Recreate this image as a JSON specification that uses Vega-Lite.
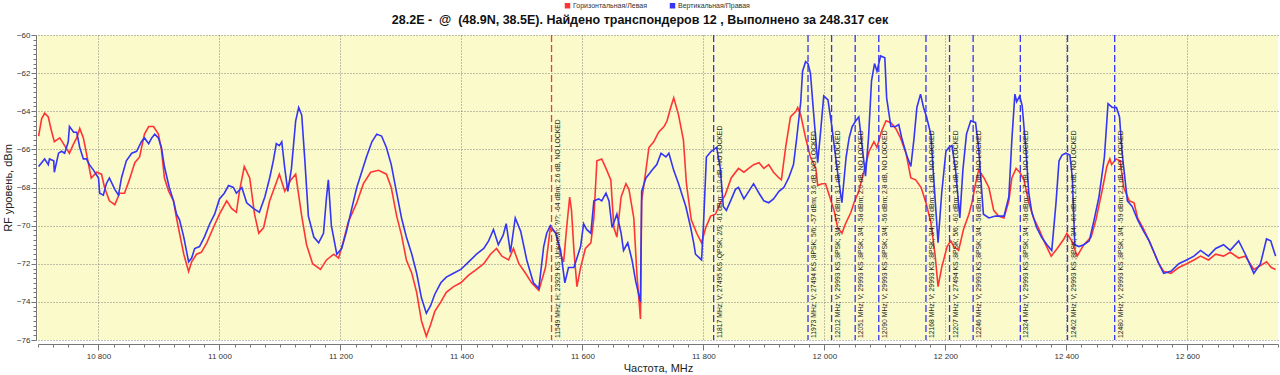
{
"$schema": "https://vega.github.io/schema/vega-lite/v6.json",
"width": 1240, "height": 305,
"autosize": {"type": "none"},
"padding": {"left": 38, "top": 35, "right": 2, "bottom": 35},
"background": "white",
"view": {"fill": "#FAFACB", "stroke": null},
"title": {"text": "28.2E -\u00a0 @\u00a0 (48.9N, 38.5E). Найдено транспондеров 12 , Выполнено за 248.317 сек", "fontSize": 12.5, "font": "Liberation Sans", "fontWeight": "bold", "color": "#111", "anchor": "middle", "frame": "group", "offset": 0, "dx": -18, "dy": 24},
"config": {"font": "Liberation Sans"},
"datasets": {
"tp": [
{"f": 11549, "s": "H", "label": "11549 MHz; H; 23929 KS ;Unknown; ?/?; -64 dBm; 2.6 dB, NO LOCKED"},
{"f": 11817, "s": "V", "label": "11817 MHz; V; 27495 KS ;QPSK; 2/3; -61 dBm; 10.0 dB, NO LOCKED"},
{"f": 11973, "s": "V", "label": "11973 MHz; V; 27494 KS ;8PSK; 5/6; -57 dBm; 3.6 dB, NO LOCKED"},
{"f": 12012, "s": "V", "label": "12012 MHz; V; 29993 KS ;8PSK; 3/4; -57 dBm; 3.1 dB, NO LOCKED"},
{"f": 12051, "s": "V", "label": "12051 MHz; V; 29993 KS ;8PSK; 3/4; -58 dBm; 2.0 dB, NO LOCKED"},
{"f": 12090, "s": "V", "label": "12090 MHz; V; 29993 KS ;8PSK; 3/4; -56 dBm; 2.8 dB, NO LOCKED"},
{"f": 12168, "s": "V", "label": "12168 MHz; V; 29993 KS ;8PSK; 3/4; -58 dBm; 3.1 dB, NO LOCKED"},
{"f": 12207, "s": "V", "label": "12207 MHz; V; 27494 KS ;8PSK; 5/6; -60 dBm; 3.8 dB, NO LOCKED"},
{"f": 12246, "s": "V", "label": "12246 MHz; V; 29993 KS ;8PSK; 3/4; -58 dBm; 2.8 dB, NO LOCKED"},
{"f": 12324, "s": "V", "label": "12324 MHz; V; 29993 KS ;8PSK; 3/4; -58 dBm; 2.7 dB, NO LOCKED"},
{"f": 12402, "s": "V", "label": "12402 MHz; V; 29993 KS ;8PSK; 3/4; -60 dBm; 2.6 dB, NO LOCKED"},
{"f": 12480, "s": "V", "label": "12480 MHz; V; 29993 KS ;8PSK; 3/4; -59 dBm; 2.1 dB, NO LOCKED"}
],
"spec": [
{"s":"H","f":10701,"v":-65.3},{"s":"H","f":10706,"v":-64.4},{"s":"H","f":10711,"v":-64.1},{"s":"H","f":10717,"v":-64.3},{"s":"H","f":10722,"v":-65.0},{"s":"H","f":10727,"v":-65.6},{"s":"H","f":10736,"v":-65.4},{"s":"H","f":10744,"v":-65.8},{"s":"H","f":10752,"v":-66.2},{"s":"H","f":10759,"v":-65.7},{"s":"H","f":10764,"v":-65.4},{"s":"H","f":10769,"v":-64.9},{"s":"H","f":10775,"v":-65.4},{"s":"H","f":10780,"v":-66.2},{"s":"H","f":10788,"v":-67.5},{"s":"H","f":10797,"v":-67.2},{"s":"H","f":10805,"v":-67.3},{"s":"H","f":10810,"v":-68.0},{"s":"H","f":10818,"v":-68.7},{"s":"H","f":10827,"v":-68.9},{"s":"H","f":10835,"v":-68.3},{"s":"H","f":10843,"v":-68.3},{"s":"H","f":10851,"v":-67.6},{"s":"H","f":10860,"v":-66.7},{"s":"H","f":10868,"v":-66.4},{"s":"H","f":10876,"v":-65.2},{"s":"H","f":10883,"v":-64.8},{"s":"H","f":10891,"v":-64.8},{"s":"H","f":10899,"v":-65.2},{"s":"H","f":10904,"v":-66.0},{"s":"H","f":10909,"v":-67.5},{"s":"H","f":10916,"v":-68.2},{"s":"H","f":10924,"v":-68.7},{"s":"H","f":10929,"v":-69.6},{"s":"H","f":10934,"v":-70.4},{"s":"H","f":10941,"v":-71.5},{"s":"H","f":10949,"v":-72.4},{"s":"H","f":10954,"v":-71.9},{"s":"H","f":10962,"v":-71.5},{"s":"H","f":10970,"v":-71.4},{"s":"H","f":10979,"v":-70.9},{"s":"H","f":10990,"v":-70.1},{"s":"H","f":11000,"v":-69.4},{"s":"H","f":11012,"v":-68.7},{"s":"H","f":11020,"v":-69.1},{"s":"H","f":11028,"v":-69.3},{"s":"H","f":11033,"v":-68.2},{"s":"H","f":11041,"v":-66.9},{"s":"H","f":11050,"v":-67.5},{"s":"H","f":11058,"v":-69.4},{"s":"H","f":11065,"v":-70.4},{"s":"H","f":11073,"v":-70.1},{"s":"H","f":11083,"v":-68.7},{"s":"H","f":11091,"v":-68.0},{"s":"H","f":11099,"v":-67.3},{"s":"H","f":11108,"v":-68.2},{"s":"H","f":11118,"v":-67.6},{"s":"H","f":11126,"v":-67.3},{"s":"H","f":11136,"v":-69.5},{"s":"H","f":11144,"v":-71.0},{"s":"H","f":11154,"v":-72.0},{"s":"H","f":11167,"v":-72.3},{"s":"H","f":11177,"v":-71.8},{"s":"H","f":11189,"v":-71.5},{"s":"H","f":11197,"v":-71.7},{"s":"H","f":11205,"v":-70.8},{"s":"H","f":11213,"v":-69.8},{"s":"H","f":11227,"v":-68.8},{"s":"H","f":11238,"v":-67.8},{"s":"H","f":11250,"v":-67.2},{"s":"H","f":11263,"v":-67.1},{"s":"H","f":11276,"v":-67.3},{"s":"H","f":11284,"v":-68.0},{"s":"H","f":11293,"v":-69.5},{"s":"H","f":11301,"v":-70.5},{"s":"H","f":11309,"v":-71.8},{"s":"H","f":11318,"v":-72.5},{"s":"H","f":11326,"v":-73.5},{"s":"H","f":11334,"v":-75.0},{"s":"H","f":11342,"v":-75.8},{"s":"H","f":11349,"v":-75.2},{"s":"H","f":11356,"v":-74.5},{"s":"H","f":11366,"v":-74.0},{"s":"H","f":11375,"v":-73.5},{"s":"H","f":11387,"v":-73.2},{"s":"H","f":11399,"v":-73.0},{"s":"H","f":11412,"v":-72.6},{"s":"H","f":11425,"v":-72.3},{"s":"H","f":11437,"v":-72.0},{"s":"H","f":11448,"v":-71.5},{"s":"H","f":11458,"v":-71.2},{"s":"H","f":11467,"v":-71.6},{"s":"H","f":11478,"v":-71.8},{"s":"H","f":11486,"v":-71.2},{"s":"H","f":11495,"v":-72.0},{"s":"H","f":11506,"v":-72.5},{"s":"H","f":11516,"v":-73.0},{"s":"H","f":11528,"v":-73.4},{"s":"H","f":11539,"v":-72.2},{"s":"H","f":11547,"v":-70.1},{"s":"H","f":11556,"v":-70.4},{"s":"H","f":11564,"v":-71.5},{"s":"H","f":11569,"v":-71.9},{"s":"H","f":11574,"v":-70.1},{"s":"H","f":11579,"v":-68.5},{"s":"H","f":11582,"v":-69.2},{"s":"H","f":11586,"v":-71.3},{"s":"H","f":11591,"v":-73.2},{"s":"H","f":11597,"v":-72.2},{"s":"H","f":11605,"v":-71.2},{"s":"H","f":11614,"v":-70.9},{"s":"H","f":11619,"v":-69.6},{"s":"H","f":11624,"v":-66.6},{"s":"H","f":11632,"v":-66.5},{"s":"H","f":11639,"v":-67.0},{"s":"H","f":11647,"v":-67.6},{"s":"H","f":11652,"v":-70.1},{"s":"H","f":11657,"v":-70.6},{"s":"H","f":11664,"v":-68.5},{"s":"H","f":11672,"v":-67.8},{"s":"H","f":11677,"v":-68.1},{"s":"H","f":11685,"v":-69.6},{"s":"H","f":11690,"v":-72.5},{"s":"H","f":11696,"v":-74.9},{"s":"H","f":11698,"v":-68.7},{"s":"H","f":11705,"v":-67.1},{"s":"H","f":11710,"v":-65.9},{"s":"H","f":11718,"v":-65.6},{"s":"H","f":11726,"v":-65.1},{"s":"H","f":11735,"v":-64.8},{"s":"H","f":11740,"v":-64.5},{"s":"H","f":11746,"v":-63.8},{"s":"H","f":11751,"v":-63.3},{"s":"H","f":11759,"v":-64.2},{"s":"H","f":11767,"v":-65.5},{"s":"H","f":11772,"v":-67.8},{"s":"H","f":11780,"v":-69.7},{"s":"H","f":11789,"v":-70.4},{"s":"H","f":11797,"v":-70.9},{"s":"H","f":11804,"v":-70.1},{"s":"H","f":11812,"v":-69.5},{"s":"H","f":11820,"v":-69.4},{"s":"H","f":11828,"v":-68.8},{"s":"H","f":11836,"v":-68.4},{"s":"H","f":11846,"v":-67.5},{"s":"H","f":11858,"v":-67.0},{"s":"H","f":11867,"v":-67.2},{"s":"H","f":11875,"v":-67.0},{"s":"H","f":11883,"v":-66.8},{"s":"H","f":11892,"v":-66.7},{"s":"H","f":11900,"v":-67.0},{"s":"H","f":11908,"v":-66.8},{"s":"H","f":11916,"v":-67.2},{"s":"H","f":11925,"v":-67.5},{"s":"H","f":11929,"v":-67.6},{"s":"H","f":11936,"v":-65.9},{"s":"H","f":11944,"v":-64.3},{"s":"H","f":11953,"v":-64.0},{"s":"H","f":11956,"v":-63.8},{"s":"H","f":11961,"v":-64.2},{"s":"H","f":11969,"v":-65.4},{"s":"H","f":11977,"v":-66.4},{"s":"H","f":11986,"v":-67.0},{"s":"H","f":11989,"v":-67.9},{"s":"H","f":11996,"v":-67.8},{"s":"H","f":12002,"v":-67.8},{"s":"H","f":12007,"v":-68.3},{"s":"H","f":12016,"v":-69.2},{"s":"H","f":12022,"v":-70.1},{"s":"H","f":12029,"v":-70.4},{"s":"H","f":12035,"v":-69.9},{"s":"H","f":12044,"v":-69.3},{"s":"H","f":12049,"v":-68.8},{"s":"H","f":12057,"v":-68.2},{"s":"H","f":12065,"v":-67.2},{"s":"H","f":12074,"v":-66.1},{"s":"H","f":12082,"v":-65.6},{"s":"H","f":12087,"v":-65.9},{"s":"H","f":12094,"v":-65.1},{"s":"H","f":12102,"v":-64.5},{"s":"H","f":12110,"v":-64.6},{"s":"H","f":12118,"v":-64.9},{"s":"H","f":12126,"v":-65.4},{"s":"H","f":12135,"v":-66.2},{"s":"H","f":12143,"v":-67.5},{"s":"H","f":12151,"v":-67.6},{"s":"H","f":12160,"v":-68.0},{"s":"H","f":12168,"v":-68.8},{"s":"H","f":12176,"v":-69.8},{"s":"H","f":12183,"v":-71.5},{"s":"H","f":12188,"v":-73.2},{"s":"H","f":12194,"v":-72.2},{"s":"H","f":12203,"v":-71.1},{"s":"H","f":12209,"v":-70.8},{"s":"H","f":12214,"v":-71.1},{"s":"H","f":12222,"v":-71.3},{"s":"H","f":12230,"v":-70.2},{"s":"H","f":12239,"v":-69.4},{"s":"H","f":12244,"v":-68.8},{"s":"H","f":12250,"v":-67.8},{"s":"H","f":12255,"v":-67.1},{"s":"H","f":12264,"v":-67.5},{"s":"H","f":12272,"v":-68.0},{"s":"H","f":12280,"v":-69.2},{"s":"H","f":12288,"v":-69.5},{"s":"H","f":12297,"v":-69.6},{"s":"H","f":12305,"v":-68.7},{"s":"H","f":12310,"v":-67.5},{"s":"H","f":12317,"v":-67.0},{"s":"H","f":12323,"v":-67.2},{"s":"H","f":12330,"v":-67.6},{"s":"H","f":12338,"v":-68.8},{"s":"H","f":12346,"v":-69.6},{"s":"H","f":12355,"v":-70.2},{"s":"H","f":12363,"v":-70.8},{"s":"H","f":12375,"v":-71.6},{"s":"H","f":12385,"v":-71.2},{"s":"H","f":12396,"v":-70.7},{"s":"H","f":12401,"v":-70.4},{"s":"H","f":12409,"v":-70.8},{"s":"H","f":12418,"v":-71.6},{"s":"H","f":12429,"v":-71.0},{"s":"H","f":12441,"v":-70.6},{"s":"H","f":12449,"v":-69.7},{"s":"H","f":12459,"v":-68.2},{"s":"H","f":12467,"v":-66.9},{"s":"H","f":12472,"v":-66.5},{"s":"H","f":12475,"v":-66.8},{"s":"H","f":12482,"v":-66.5},{"s":"H","f":12489,"v":-66.6},{"s":"H","f":12495,"v":-68.0},{"s":"H","f":12504,"v":-68.7},{"s":"H","f":12512,"v":-68.8},{"s":"H","f":12518,"v":-69.6},{"s":"H","f":12528,"v":-70.2},{"s":"H","f":12537,"v":-70.8},{"s":"H","f":12545,"v":-71.4},{"s":"H","f":12553,"v":-72.0},{"s":"H","f":12561,"v":-72.4},{"s":"H","f":12573,"v":-72.5},{"s":"H","f":12586,"v":-72.2},{"s":"H","f":12599,"v":-72.0},{"s":"H","f":12611,"v":-71.8},{"s":"H","f":12622,"v":-71.6},{"s":"H","f":12635,"v":-71.8},{"s":"H","f":12647,"v":-71.5},{"s":"H","f":12660,"v":-71.6},{"s":"H","f":12671,"v":-71.4},{"s":"H","f":12685,"v":-71.7},{"s":"H","f":12696,"v":-71.6},{"s":"H","f":12710,"v":-72.3},{"s":"H","f":12721,"v":-72.1},{"s":"H","f":12731,"v":-71.9},{"s":"H","f":12739,"v":-72.2},{"s":"H","f":12746,"v":-72.3},
{"s":"V","f":10701,"v":-66.9},{"s":"V","f":10706,"v":-66.7},{"s":"V","f":10711,"v":-66.5},{"s":"V","f":10717,"v":-66.8},{"s":"V","f":10719,"v":-66.5},{"s":"V","f":10726,"v":-66.6},{"s":"V","f":10727,"v":-67.2},{"s":"V","f":10734,"v":-66.2},{"s":"V","f":10739,"v":-66.1},{"s":"V","f":10744,"v":-66.2},{"s":"V","f":10750,"v":-65.6},{"s":"V","f":10752,"v":-64.8},{"s":"V","f":10759,"v":-65.1},{"s":"V","f":10764,"v":-65.1},{"s":"V","f":10769,"v":-65.9},{"s":"V","f":10775,"v":-66.5},{"s":"V","f":10780,"v":-66.5},{"s":"V","f":10785,"v":-66.8},{"s":"V","f":10792,"v":-67.1},{"s":"V","f":10800,"v":-67.5},{"s":"V","f":10802,"v":-68.3},{"s":"V","f":10808,"v":-68.4},{"s":"V","f":10813,"v":-67.8},{"s":"V","f":10818,"v":-67.5},{"s":"V","f":10827,"v":-68.1},{"s":"V","f":10833,"v":-68.4},{"s":"V","f":10838,"v":-67.5},{"s":"V","f":10846,"v":-66.6},{"s":"V","f":10855,"v":-66.2},{"s":"V","f":10863,"v":-66.1},{"s":"V","f":10871,"v":-65.6},{"s":"V","f":10876,"v":-65.4},{"s":"V","f":10883,"v":-65.7},{"s":"V","f":10888,"v":-65.4},{"s":"V","f":10893,"v":-65.2},{"s":"V","f":10899,"v":-65.4},{"s":"V","f":10904,"v":-65.9},{"s":"V","f":10909,"v":-66.9},{"s":"V","f":10917,"v":-68.0},{"s":"V","f":10924,"v":-68.7},{"s":"V","f":10929,"v":-69.4},{"s":"V","f":10934,"v":-69.7},{"s":"V","f":10941,"v":-70.6},{"s":"V","f":10949,"v":-71.9},{"s":"V","f":10954,"v":-71.7},{"s":"V","f":10959,"v":-71.2},{"s":"V","f":10967,"v":-71.1},{"s":"V","f":10975,"v":-70.6},{"s":"V","f":10984,"v":-69.9},{"s":"V","f":10992,"v":-69.4},{"s":"V","f":11000,"v":-68.6},{"s":"V","f":11008,"v":-68.3},{"s":"V","f":11015,"v":-67.9},{"s":"V","f":11023,"v":-68.0},{"s":"V","f":11028,"v":-68.3},{"s":"V","f":11037,"v":-68.0},{"s":"V","f":11045,"v":-68.8},{"s":"V","f":11056,"v":-69.1},{"s":"V","f":11066,"v":-69.3},{"s":"V","f":11075,"v":-68.5},{"s":"V","f":11083,"v":-67.5},{"s":"V","f":11089,"v":-66.6},{"s":"V","f":11094,"v":-65.7},{"s":"V","f":11099,"v":-65.8},{"s":"V","f":11103,"v":-65.6},{"s":"V","f":11108,"v":-67.0},{"s":"V","f":11113,"v":-68.2},{"s":"V","f":11119,"v":-67.0},{"s":"V","f":11126,"v":-64.5},{"s":"V","f":11131,"v":-63.8},{"s":"V","f":11136,"v":-64.2},{"s":"V","f":11141,"v":-66.5},{"s":"V","f":11147,"v":-69.5},{"s":"V","f":11156,"v":-70.6},{"s":"V","f":11164,"v":-70.9},{"s":"V","f":11172,"v":-70.4},{"s":"V","f":11177,"v":-68.5},{"s":"V","f":11180,"v":-67.6},{"s":"V","f":11185,"v":-70.0},{"s":"V","f":11194,"v":-71.5},{"s":"V","f":11202,"v":-71.2},{"s":"V","f":11210,"v":-70.3},{"s":"V","f":11218,"v":-69.2},{"s":"V","f":11227,"v":-68.0},{"s":"V","f":11235,"v":-67.2},{"s":"V","f":11243,"v":-66.4},{"s":"V","f":11252,"v":-65.6},{"s":"V","f":11260,"v":-65.2},{"s":"V","f":11268,"v":-65.3},{"s":"V","f":11276,"v":-65.9},{"s":"V","f":11284,"v":-66.8},{"s":"V","f":11293,"v":-68.3},{"s":"V","f":11301,"v":-69.6},{"s":"V","f":11309,"v":-70.6},{"s":"V","f":11318,"v":-71.5},{"s":"V","f":11326,"v":-72.5},{"s":"V","f":11334,"v":-73.8},{"s":"V","f":11342,"v":-74.6},{"s":"V","f":11349,"v":-74.2},{"s":"V","f":11356,"v":-73.6},{"s":"V","f":11366,"v":-73.0},{"s":"V","f":11375,"v":-72.7},{"s":"V","f":11387,"v":-72.5},{"s":"V","f":11399,"v":-72.3},{"s":"V","f":11412,"v":-71.9},{"s":"V","f":11425,"v":-71.5},{"s":"V","f":11437,"v":-71.2},{"s":"V","f":11445,"v":-70.8},{"s":"V","f":11453,"v":-70.2},{"s":"V","f":11461,"v":-71.0},{"s":"V","f":11469,"v":-70.5},{"s":"V","f":11474,"v":-69.9},{"s":"V","f":11481,"v":-71.4},{"s":"V","f":11489,"v":-69.6},{"s":"V","f":11498,"v":-70.3},{"s":"V","f":11508,"v":-71.8},{"s":"V","f":11519,"v":-73.0},{"s":"V","f":11528,"v":-73.3},{"s":"V","f":11536,"v":-71.1},{"s":"V","f":11541,"v":-70.4},{"s":"V","f":11547,"v":-70.0},{"s":"V","f":11556,"v":-70.4},{"s":"V","f":11564,"v":-71.3},{"s":"V","f":11571,"v":-73.0},{"s":"V","f":11577,"v":-72.2},{"s":"V","f":11586,"v":-72.2},{"s":"V","f":11591,"v":-71.7},{"s":"V","f":11597,"v":-71.1},{"s":"V","f":11602,"v":-69.9},{"s":"V","f":11607,"v":-70.2},{"s":"V","f":11614,"v":-70.4},{"s":"V","f":11619,"v":-68.7},{"s":"V","f":11627,"v":-68.6},{"s":"V","f":11632,"v":-68.7},{"s":"V","f":11639,"v":-68.3},{"s":"V","f":11644,"v":-68.7},{"s":"V","f":11649,"v":-70.1},{"s":"V","f":11657,"v":-69.4},{"s":"V","f":11664,"v":-70.4},{"s":"V","f":11668,"v":-71.3},{"s":"V","f":11675,"v":-70.9},{"s":"V","f":11682,"v":-71.8},{"s":"V","f":11688,"v":-72.9},{"s":"V","f":11696,"v":-74.0},{"s":"V","f":11698,"v":-68.2},{"s":"V","f":11705,"v":-67.5},{"s":"V","f":11710,"v":-67.3},{"s":"V","f":11715,"v":-67.1},{"s":"V","f":11723,"v":-66.8},{"s":"V","f":11730,"v":-66.2},{"s":"V","f":11738,"v":-66.4},{"s":"V","f":11743,"v":-66.2},{"s":"V","f":11751,"v":-67.1},{"s":"V","f":11759,"v":-67.8},{"s":"V","f":11764,"v":-68.3},{"s":"V","f":11771,"v":-69.0},{"s":"V","f":11779,"v":-70.1},{"s":"V","f":11784,"v":-70.9},{"s":"V","f":11787,"v":-71.5},{"s":"V","f":11797,"v":-71.8},{"s":"V","f":11800,"v":-70.1},{"s":"V","f":11805,"v":-66.4},{"s":"V","f":11813,"v":-66.1},{"s":"V","f":11822,"v":-65.9},{"s":"V","f":11828,"v":-67.0},{"s":"V","f":11833,"v":-69.0},{"s":"V","f":11838,"v":-69.2},{"s":"V","f":11845,"v":-68.7},{"s":"V","f":11853,"v":-68.1},{"s":"V","f":11858,"v":-68.0},{"s":"V","f":11867,"v":-68.6},{"s":"V","f":11875,"v":-68.2},{"s":"V","f":11883,"v":-67.8},{"s":"V","f":11892,"v":-68.3},{"s":"V","f":11900,"v":-68.7},{"s":"V","f":11908,"v":-68.8},{"s":"V","f":11916,"v":-68.6},{"s":"V","f":11925,"v":-68.2},{"s":"V","f":11933,"v":-68.0},{"s":"V","f":11941,"v":-67.5},{"s":"V","f":11949,"v":-66.8},{"s":"V","f":11954,"v":-65.5},{"s":"V","f":11961,"v":-63.5},{"s":"V","f":11964,"v":-61.9},{"s":"V","f":11969,"v":-61.4},{"s":"V","f":11973,"v":-61.5},{"s":"V","f":11977,"v":-62.0},{"s":"V","f":11982,"v":-64.0},{"s":"V","f":11989,"v":-66.7},{"s":"V","f":11994,"v":-65.0},{"s":"V","f":11999,"v":-63.2},{"s":"V","f":12006,"v":-63.4},{"s":"V","f":12012,"v":-64.7},{"s":"V","f":12021,"v":-67.0},{"s":"V","f":12029,"v":-68.8},{"s":"V","f":12036,"v":-66.4},{"s":"V","f":12041,"v":-65.4},{"s":"V","f":12046,"v":-64.8},{"s":"V","f":12052,"v":-64.5},{"s":"V","f":12057,"v":-64.3},{"s":"V","f":12062,"v":-65.7},{"s":"V","f":12068,"v":-67.4},{"s":"V","f":12073,"v":-65.4},{"s":"V","f":12078,"v":-62.4},{"s":"V","f":12083,"v":-61.5},{"s":"V","f":12087,"v":-61.9},{"s":"V","f":12093,"v":-61.1},{"s":"V","f":12100,"v":-61.2},{"s":"V","f":12103,"v":-63.3},{"s":"V","f":12110,"v":-64.8},{"s":"V","f":12118,"v":-64.8},{"s":"V","f":12123,"v":-64.7},{"s":"V","f":12128,"v":-65.4},{"s":"V","f":12136,"v":-66.3},{"s":"V","f":12143,"v":-66.9},{"s":"V","f":12148,"v":-65.5},{"s":"V","f":12153,"v":-63.8},{"s":"V","f":12159,"v":-63.1},{"s":"V","f":12164,"v":-63.8},{"s":"V","f":12169,"v":-64.3},{"s":"V","f":12176,"v":-65.2},{"s":"V","f":12181,"v":-67.6},{"s":"V","f":12188,"v":-70.9},{"s":"V","f":12194,"v":-68.3},{"s":"V","f":12201,"v":-66.1},{"s":"V","f":12206,"v":-65.9},{"s":"V","f":12211,"v":-65.8},{"s":"V","f":12217,"v":-67.1},{"s":"V","f":12224,"v":-69.6},{"s":"V","f":12229,"v":-67.1},{"s":"V","f":12235,"v":-65.2},{"s":"V","f":12242,"v":-64.5},{"s":"V","f":12250,"v":-64.6},{"s":"V","f":12255,"v":-65.9},{"s":"V","f":12263,"v":-69.4},{"s":"V","f":12272,"v":-69.6},{"s":"V","f":12283,"v":-69.5},{"s":"V","f":12297,"v":-69.5},{"s":"V","f":12305,"v":-68.5},{"s":"V","f":12310,"v":-65.5},{"s":"V","f":12315,"v":-63.1},{"s":"V","f":12318,"v":-63.5},{"s":"V","f":12323,"v":-63.2},{"s":"V","f":12327,"v":-63.7},{"s":"V","f":12333,"v":-65.9},{"s":"V","f":12338,"v":-68.3},{"s":"V","f":12343,"v":-69.3},{"s":"V","f":12351,"v":-70.1},{"s":"V","f":12359,"v":-70.6},{"s":"V","f":12368,"v":-71.0},{"s":"V","f":12376,"v":-71.3},{"s":"V","f":12383,"v":-68.8},{"s":"V","f":12388,"v":-66.6},{"s":"V","f":12393,"v":-66.3},{"s":"V","f":12399,"v":-66.2},{"s":"V","f":12406,"v":-66.3},{"s":"V","f":12410,"v":-67.5},{"s":"V","f":12414,"v":-71.0},{"s":"V","f":12421,"v":-71.1},{"s":"V","f":12429,"v":-71.0},{"s":"V","f":12438,"v":-70.8},{"s":"V","f":12446,"v":-69.7},{"s":"V","f":12454,"v":-68.5},{"s":"V","f":12463,"v":-66.4},{"s":"V","f":12469,"v":-63.6},{"s":"V","f":12476,"v":-63.8},{"s":"V","f":12483,"v":-63.8},{"s":"V","f":12488,"v":-64.3},{"s":"V","f":12492,"v":-66.1},{"s":"V","f":12501,"v":-68.7},{"s":"V","f":12509,"v":-69.0},{"s":"V","f":12518,"v":-69.7},{"s":"V","f":12528,"v":-70.3},{"s":"V","f":12537,"v":-70.8},{"s":"V","f":12545,"v":-71.4},{"s":"V","f":12553,"v":-72.0},{"s":"V","f":12561,"v":-72.5},{"s":"V","f":12573,"v":-72.4},{"s":"V","f":12586,"v":-72.0},{"s":"V","f":12599,"v":-71.8},{"s":"V","f":12611,"v":-71.6},{"s":"V","f":12622,"v":-71.3},{"s":"V","f":12635,"v":-71.6},{"s":"V","f":12647,"v":-71.2},{"s":"V","f":12660,"v":-71.0},{"s":"V","f":12671,"v":-71.3},{"s":"V","f":12685,"v":-70.8},{"s":"V","f":12696,"v":-71.5},{"s":"V","f":12710,"v":-72.5},{"s":"V","f":12721,"v":-72.0},{"s":"V","f":12731,"v":-70.7},{"s":"V","f":12738,"v":-70.8},{"s":"V","f":12746,"v":-71.6}
]
},
"resolve": {"axis": {"x": "independent", "y": "independent"}},
"layer": [
{
"data": {"name": "spec"},
"mark": {"type": "line", "strokeWidth": 1.6, "interpolate": "linear"},
"encoding": {
"x": {"field": "f", "type": "quantitative", "scale": {"domain": [10700, 12750], "nice": false, "zero": false},
 "axis": {"orient": "bottom", "values": [10800, 11000, 11200, 11400, 11600, 11800, 12000, 12200, 12400, 12600], "labelExpr": "replace(format(datum.value, ','), ',', ' ')", "grid": true, "gridDash": [1, 2], "gridColor": "#777", "gridOpacity": 0.9, "domainColor": "#777", "tickColor": "#777", "tickSize": 6, "offset": 4, "labelFontSize": 8, "labelColor": "#333", "labelPadding": 2, "title": "Частота, MHz", "titleFontSize": 11, "titleFontWeight": "normal", "titleColor": "#222", "titlePadding": 2}},
"y": {"field": "v", "type": "quantitative", "scale": {"domain": [-76, -60], "nice": false, "zero": false},
 "axis": {"orient": "left", "values": [-76, -74, -72, -70, -68, -66, -64, -62, -60], "grid": true, "gridDash": [1, 2], "gridColor": "#777", "gridOpacity": 0.9, "domainColor": "#777", "tickColor": "#777", "tickSize": 5, "offset": 2, "labelFontSize": 8, "labelColor": "#333", "labelPadding": 1, "title": "RF уровень, dBm", "titleFontSize": 11, "titleFontWeight": "normal", "titleColor": "#222", "titlePadding": 3}},
"color": {"field": "s", "type": "nominal", "scale": {"domain": ["H", "V"], "range": ["#FF3535", "#3535F5"]},
 "legend": {"orient": "none", "legendX": 526, "legendY": -33, "direction": "horizontal", "title": null, "symbolType": "square", "symbolSize": 30, "labelFontSize": 7, "labelColor": "#333", "columnPadding": 22, "labelOffset": 2, "labelExpr": "datum.label == 'H' ? 'Горизонтальная/Левая' : 'Вертикальная/Правая'", "encode": {"symbols": {"update": {"fill": {"scale": "color", "field": "value"}, "strokeWidth": {"value": 0}}}}}}
}
},
{
"data": {"name": "tp"},
"mark": {"type": "rule", "strokeDash": [7, 3], "strokeWidth": 1.3},
"encoding": {
"x": {"field": "f", "type": "quantitative", "axis": {"orient": "bottom", "values": [10700,10725,10750,10775,10800,10825,10850,10875,10900,10925,10950,10975,11000,11025,11050,11075,11100,11125,11150,11175,11200,11225,11250,11275,11300,11325,11350,11375,11400,11425,11450,11475,11500,11525,11550,11575,11600,11625,11650,11675,11700,11725,11750,11775,11800,11825,11850,11875,11900,11925,11950,11975,12000,12025,12050,12075,12100,12125,12150,12175,12200,12225,12250,12275,12300,12325,12350,12375,12400,12425,12450,12475,12500,12525,12550,12575,12600,12625,12650,12675,12700,12725,12750], "labels": false, "grid": false, "domain": false, "tickSize": 3, "tickColor": "#777", "offset": 4, "title": null}},
"color": {"field": "s", "type": "nominal"}
}
},
{
"data": {"name": "tp"},
"mark": {"type": "text", "angle": 270, "align": "left", "baseline": "top", "dx": 2, "dy": 3, "fontSize": 6.8, "color": "#222"},
"encoding": {
"x": {"field": "f", "type": "quantitative", "axis": null},
"y": {"datum": -76, "type": "quantitative", "axis": {"orient": "left", "values": [-76,-75.75,-75.5,-75.25,-75,-74.75,-74.5,-74.25,-74,-73.75,-73.5,-73.25,-73,-72.75,-72.5,-72.25,-72,-71.75,-71.5,-71.25,-71,-70.75,-70.5,-70.25,-70,-69.75,-69.5,-69.25,-69,-68.75,-68.5,-68.25,-68,-67.75,-67.5,-67.25,-67,-66.75,-66.5,-66.25,-66,-65.75,-65.5,-65.25,-65,-64.75,-64.5,-64.25,-64,-63.75,-63.5,-63.25,-63,-62.75,-62.5,-62.25,-62,-61.75,-61.5,-61.25,-61,-60.75,-60.5,-60.25,-60], "labels": false, "grid": false, "domain": false, "tickSize": 3, "tickColor": "#777", "offset": 2, "title": null}},
"text": {"field": "label"}
}
}
]
}
